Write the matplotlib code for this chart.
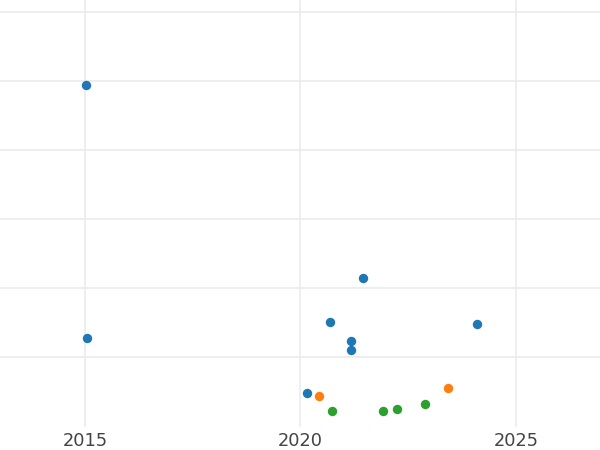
import matplotlib.pyplot as plt

# data
blue_x = [2015.02, 2015.05, 2021.45, 2020.68, 2021.18, 2021.18, 2024.10, 2020.15]
blue_y = [49.4, 12.75, 21.5, 15.05, 12.3, 11.0, 14.8, 4.83]
orange_x = [2020.44, 2023.43]
orange_y = [4.35, 5.55]
green_x = [2020.73, 2021.91, 2022.24, 2022.90]
green_y = [2.12, 2.12, 2.5, 3.14]

x_ticks = [2015, 2020, 2025]
y_ticks = [10, 20, 30, 40, 50, 60]

fig = plt.figure(figsize=(6, 4.5), dpi=100)
ax = fig.add_axes([0, 23 / 450, 1, 427 / 450])

ax.scatter(blue_x, blue_y, s=46, color='#1f77b4', zorder=3, linewidths=0)
ax.scatter(orange_x, orange_y, s=46, color='#ff7f0e', zorder=3, linewidths=0)
ax.scatter(green_x, green_y, s=46, color='#2ca02c', zorder=3, linewidths=0)

ax.set_xlim(2013.03, 2026.95)
ax.set_ylim(-0.15, 61.74)
ax.set_xticks(x_ticks)
ax.set_xticklabels([str(t) for t in x_ticks])
ax.set_yticks(y_ticks)
ax.set_yticklabels([])

ax.grid(True, color='#ebebeb', linewidth=1.2)
ax.set_axisbelow(True)
ax.tick_params(length=0, pad=3.5, labelsize=12.8, labelcolor='#444444')
for s in ax.spines.values():
    s.set_visible(False)

fig.savefig('out.png', dpi=100)
